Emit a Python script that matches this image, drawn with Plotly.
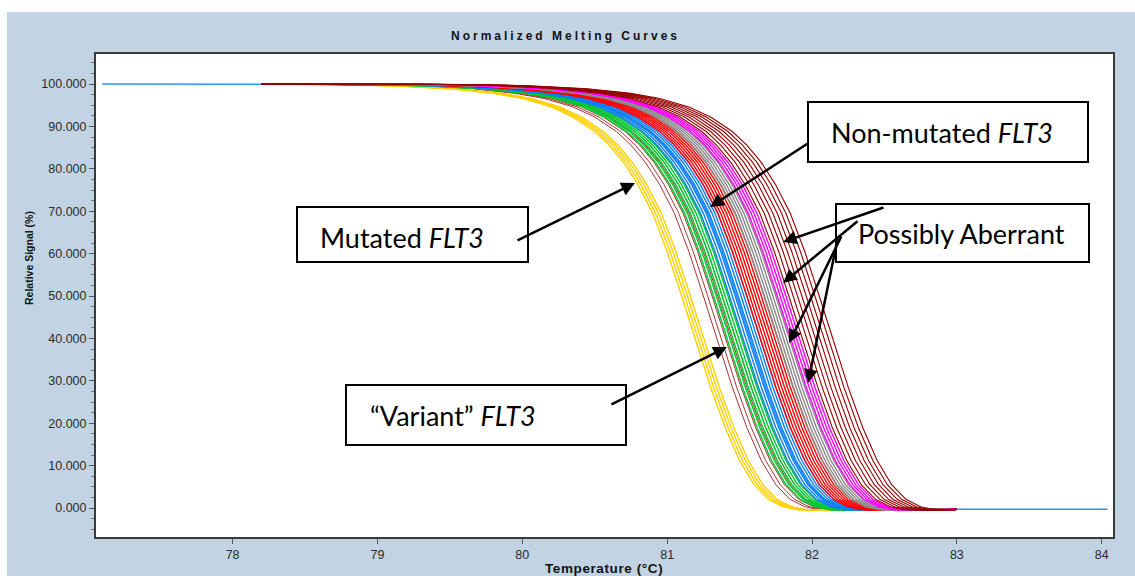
import plotly.graph_objects as go

# ---- melt profile: normalized signal vs. offset from the melting midpoint (°C)
PROFILE_DT = [-3.0, -2.4, -2.0, -1.6, -1.3, -1.1, -0.9, -0.75, -0.6, -0.5, -0.4, -0.3,
              -0.2, -0.1, 0.0, 0.1, 0.2, 0.3, 0.4, 0.5, 0.6, 0.7, 0.8, 1.0, 1.3]
PROFILE_Y = [100.0, 99.9, 99.6, 98.9, 97.8, 96.6, 94.6, 92.2, 88.8, 85.6, 81.5, 76.2,
             69.5, 60.5, 50.0, 39.0, 28.5, 19.0, 11.2, 5.5, 2.0, 0.3, -0.4, -0.5, -0.3]

# acquisition window of the sample curves
START_T, START_Y = 78.2, 100.0
END_T, END_Y = 83.0, -0.3

# melting midpoints (°C) of each sample, by group
YELLOW_TM = [81.10, 81.12, 81.14, 81.16]
BROWN_TM = [81.25, 81.28, 81.31, 81.35, 81.38]
GREEN_TM = [81.32, 81.34, 81.36, 81.38, 81.40, 81.42]
BLUE_TM = [81.43, 81.45, 81.47, 81.49, 81.51, 81.53, 81.55]
RED_TM = [81.55, 81.57, 81.59, 81.61, 81.63, 81.65, 81.67]
GRAY_TM = [81.67, 81.69, 81.71, 81.73, 81.75]
MAGENTA_TM = [81.76, 81.78, 81.80, 81.82]
DARKRED_TM = [81.84, 81.87, 81.90, 81.93, 81.96, 81.99, 82.02, 82.05]

# full-range reference trace
REF_TM = 81.48
REF_START_T, REF_END_T = 77.1, 84.04

X_TICKS = [78, 79, 80, 81, 82, 83, 84]
Y_TICKS = [0, 10, 20, 30, 40, 50, 60, 70, 80, 90, 100]

GROUPS = [
    (BROWN_TM, "#a83434", 1.0),
    (YELLOW_TM, "#ffd000", 1.4),
    (GREEN_TM, "#00c82e", 1.4),
    (BLUE_TM, "#0a7ef2", 1.4),
    (RED_TM, "#ff0000", 1.4),
    (GRAY_TM, "#8a8a8a", 1.4),
    (MAGENTA_TM, "#ff00ff", 1.4),
    (DARKRED_TM, "#980000", 1.1),
]

X_RANGE = [77.057, 84.078]
Y_RANGE = [-6.84, 107.08]

# plot-area geometry in pixels
L, R, T, B = 96, 1113, 54, 537
W, H = 1135, 576


def curve(tm, t0, y0, t1, y1):
    xs, ys = [t0], [y0]
    for dt, y in zip(PROFILE_DT, PROFILE_Y):
        x = tm + dt
        if t0 < x < t1:
            xs.append(x)
            ys.append(y)
    xs.append(t1)
    ys.append(y1)
    return xs, ys


def dx(px):
    return X_RANGE[0] + (px - L) / (R - L) * (X_RANGE[1] - X_RANGE[0])


def dy(py):
    return Y_RANGE[1] - (py - T) / (B - T) * (Y_RANGE[1] - Y_RANGE[0])


def paper_x(px):
    return (px - L) / (R - L)


def paper_y(py):
    return (B - py) / (B - T)


fig = go.Figure()

xs, ys = curve(REF_TM, REF_START_T, START_Y, REF_END_T, END_Y)
fig.add_trace(go.Scatter(x=xs, y=ys, mode="lines",
                         line=dict(color="#2b93ff", width=1.6), hoverinfo="skip"))

for tms, color, width in GROUPS:
    for tm in tms:
        xs, ys = curve(tm, START_T, START_Y, END_T, END_Y)
        fig.add_trace(go.Scatter(x=xs, y=ys, mode="lines",
                                 line=dict(color=color, width=width),
                                 hoverinfo="skip"))

shapes = [
    # white strips around the panel
    dict(type="rect", xref="paper", yref="paper", x0=paper_x(0), x1=paper_x(W),
         y0=paper_y(12), y1=paper_y(0), fillcolor="white", line_width=0, layer="below"),
    dict(type="rect", xref="paper", yref="paper", x0=paper_x(0), x1=paper_x(7),
         y0=paper_y(W), y1=paper_y(0), fillcolor="white", line_width=0, layer="below"),
]

boxes = [
    (808, 102, 1088, 162),   # Non-mutated
    (297, 207, 528, 262),    # Mutated
    (836, 204, 1089, 262),   # Possibly Aberrant
    (346, 385, 626, 445),    # Variant
]
for x0, y0, x1, y1 in boxes:
    shapes.append(dict(type="rect", xref="x", yref="y", x0=dx(x0), x1=dx(x1),
                       y0=dy(y1), y1=dy(y0), fillcolor="white",
                       line=dict(color="black", width=2), layer="above"))

LABEL_FONT = dict(family="Lato, Open Sans, sans-serif", size=27, color="black")
annotations = []
labels = [
    ("Non-mutated <i>FLT3</i>", 829, 132),
    ("Mutated <i>FLT3</i>", 318, 237),
    ("Possibly Aberrant", 856, 233),
    ("\u201cVariant\u201d <i>FLT3</i>", 368, 415),
]
for text, px, py in labels:
    annotations.append(dict(text=text, x=dx(px), y=dy(py), xref="x", yref="y",
                            xanchor="left", yanchor="middle", showarrow=False,
                            font=LABEL_FONT))

arrows = [
    ((516, 241), (635, 183)),
    ((810, 142), (710, 207)),
    ((885, 207), (783, 242)),
    ((859, 220), (783, 283)),
    ((842, 235), (789, 343)),
    ((838, 237), (808, 383)),
    ((610, 405), (727, 347)),
]
for (tx, ty), (hx, hy) in arrows:
    annotations.append(dict(text="", x=dx(hx), y=dy(hy), ax=dx(tx), ay=dy(ty),
                            xref="x", yref="y", axref="x", ayref="y",
                            showarrow=True, arrowhead=2, arrowsize=1.1,
                            arrowwidth=2.5, arrowcolor="black", standoff=0))

AXIS_FONT = dict(family="Liberation Sans, Arial, sans-serif", color="#111")
annotations += [
    dict(text='<span style="letter-spacing:3px">Normalized Melting Curves</span>',
         xref="paper", yref="paper", x=paper_x(565), y=paper_y(36),
         xanchor="center", yanchor="middle", showarrow=False,
         font=dict(AXIS_FONT, size=12)),
    dict(text='<span style="letter-spacing:0.6px">Temperature (°C)</span>',
         xref="paper", yref="paper", x=paper_x(604), y=paper_y(568),
         xanchor="center", yanchor="middle", showarrow=False,
         font=dict(AXIS_FONT, size=13.5)),
    dict(text="Relative Signal (%)", xref="paper", yref="paper",
         x=paper_x(29), y=paper_y(258), xanchor="center", yanchor="middle",
         textangle=-90, showarrow=False, font=dict(AXIS_FONT, size=10.5)),
]

# bold axis titles / title
for a in annotations[-3:]:
    a["text"] = "<b>" + a["text"] + "</b>"

TICK_FONT = dict(family="Liberation Sans, Arial, sans-serif", size=12.5, color="#2a2a2a")

fig.update_layout(
    width=W, height=H,
    margin=dict(l=L, r=W - R, t=T, b=H - B, pad=0),
    paper_bgcolor="#c2d4e4",
    plot_bgcolor="white",
    showlegend=False,
    shapes=shapes,
    annotations=annotations,
    xaxis=dict(range=X_RANGE, tickvals=X_TICKS, ticktext=[str(v) for v in X_TICKS],
               ticks="outside", ticklen=5, tickwidth=1, tickcolor="#555",
               showgrid=False, zeroline=False, showline=True, mirror=True,
               linecolor="#3a3a3a", linewidth=2, tickfont=TICK_FONT),
    yaxis=dict(range=Y_RANGE, tickvals=Y_TICKS,
               ticktext=[f"{v:.3f}" for v in Y_TICKS],
               ticks="outside", ticklen=5, tickwidth=1, tickcolor="#555",
               minor=dict(dtick=2.5, tick0=0, ticks="outside", ticklen=3,
                          tickcolor="#777", showgrid=False),
               showgrid=False, zeroline=False, showline=True, mirror=True,
               linecolor="#3a3a3a", linewidth=2, tickfont=TICK_FONT),
)

fig.write_html("out.html", config={"displayModeBar": False})
